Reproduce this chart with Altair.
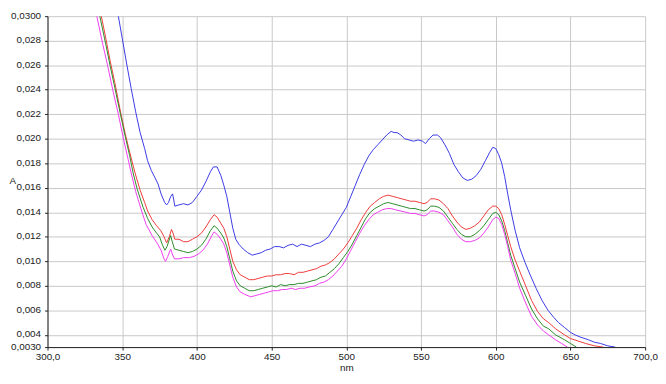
import altair as alt
import pandas as pd

# ---- data (nm, absorbance) ----
blue_nm = [340, 344, 347.4, 350, 353, 356, 359, 362, 365, 367, 369.5, 372, 374, 376, 378.4, 379.7, 381, 382.5, 383.7, 384.5, 385.2,
           388, 391, 394, 397, 400, 403, 406, 409, 411, 413.5, 416, 418, 420, 422, 424, 426, 428, 431, 434, 437, 440, 443, 446,
           449, 452, 455, 458, 461, 464, 467, 470, 473, 476, 479, 482, 485, 488, 491, 494, 497, 500, 503, 506, 509, 512, 515,
           518, 521, 524, 527, 530, 532, 534, 536.5, 539, 542, 545, 548, 551, 553, 555.5, 558, 561, 563, 566, 569, 572, 575,
           578, 581, 584, 587, 590, 593, 596, 598, 600, 602, 604, 606, 608, 610, 613, 616, 619.6, 623, 627, 631, 635, 639,
           642, 646, 650, 653, 657, 662, 666, 670, 675, 680]
blue_a = [0.0350, 0.0322, 0.0300, 0.0282, 0.0261, 0.0241, 0.0222, 0.0205, 0.0192, 0.0182, 0.0174, 0.0168, 0.0163, 0.0155, 0.0148,
          0.0146, 0.0148, 0.0153, 0.0155, 0.0150, 0.0145, 0.0146, 0.0147, 0.0146, 0.0148, 0.0153, 0.0158, 0.0165, 0.0173, 0.0177,
          0.0177, 0.0170, 0.0162, 0.0153, 0.0140, 0.0127, 0.0118, 0.0114, 0.0110, 0.0107, 0.0105, 0.0106, 0.0107, 0.0109, 0.0110,
          0.0112, 0.0112, 0.0111, 0.0113, 0.0114, 0.0112, 0.0114, 0.0113, 0.0112, 0.0114, 0.0115, 0.0117, 0.0120, 0.0126, 0.0132,
          0.0138, 0.0144, 0.0153, 0.0162, 0.0171, 0.0179, 0.0186, 0.0191, 0.0195, 0.0199, 0.0203, 0.0206, 0.0205, 0.0205, 0.0203,
          0.0200, 0.0199, 0.0198, 0.0199, 0.0198, 0.0196, 0.0200, 0.0203, 0.0203, 0.0201, 0.0195, 0.0188, 0.0179, 0.0173, 0.0168,
          0.0166, 0.0167, 0.0170, 0.0175, 0.0182, 0.0189, 0.0193, 0.0192, 0.0187, 0.0180, 0.0169, 0.0155, 0.0142, 0.0125, 0.0111,
          0.0099, 0.0089, 0.0078, 0.0068, 0.0060, 0.0054, 0.0050, 0.0046, 0.0042, 0.0040, 0.0038, 0.0036, 0.0034, 0.0033, 0.0031,
          0.0030]

red_nm = [330, 333, 336, 339, 342, 345, 349, 352, 355, 358.6, 362, 365, 367, 370, 373, 375.8, 378, 379.7, 381.5, 383, 384, 385.2,
          388, 391, 394, 397, 400, 403, 406, 409, 411.5, 413.5, 416, 418, 420, 422, 424, 426.5, 429, 432, 435, 438, 441, 444,
          447, 450, 453, 456, 459, 462, 465, 468, 471, 474, 477, 480, 483, 486, 489, 492, 495, 498, 501, 504, 507, 510, 513,
          516, 519, 522, 525, 528, 531, 534, 537, 540, 543, 546, 549, 552, 554, 556.5, 559, 562, 565, 568, 571, 574, 577, 580,
          583, 586, 589, 592, 595, 598, 600, 602, 604, 606, 608, 610, 613, 616, 620, 624, 628, 632, 635.4, 640, 646, 650, 655,
          660, 666, 672]
red_a = [0.0336, 0.0318, 0.0300, 0.0282, 0.0263, 0.0246, 0.0221, 0.0204, 0.0189, 0.0172, 0.0158, 0.0148, 0.0141, 0.0134, 0.0129,
         0.0125, 0.0120, 0.0115, 0.0120, 0.0126, 0.0123, 0.0118, 0.0118, 0.0116, 0.0116, 0.0118, 0.0120, 0.0123, 0.0128, 0.0134,
         0.0138, 0.0136, 0.0131, 0.0127, 0.0120, 0.0110, 0.0100, 0.0093, 0.0089, 0.0087, 0.0085, 0.0085, 0.0086, 0.0087, 0.0088,
         0.0088, 0.0089, 0.0089, 0.0090, 0.0090, 0.0089, 0.0091, 0.0091, 0.0092, 0.0093, 0.0094, 0.0096, 0.0097, 0.0099, 0.0102,
         0.0106, 0.0110, 0.0115, 0.0121, 0.0127, 0.0134, 0.0140, 0.0145, 0.0148, 0.0151, 0.0153, 0.0154, 0.0153, 0.0152, 0.0151,
         0.0150, 0.0149, 0.0149, 0.0148, 0.0147, 0.0148, 0.0151, 0.0151, 0.0150, 0.0147, 0.0143, 0.0137, 0.0132, 0.0128, 0.0126,
         0.0127, 0.0129, 0.0132, 0.0137, 0.0142, 0.0145, 0.0145, 0.0143, 0.0138, 0.0130, 0.0121, 0.0112, 0.0101, 0.0092, 0.0080,
         0.0068, 0.0059, 0.0053, 0.0050, 0.0045, 0.0040, 0.0037, 0.0035, 0.0033, 0.0031, 0.0030]

green_nm = [330, 335, 339, 342, 345, 348.8, 352, 355, 357.3, 360, 364, 367, 370, 373, 375, 377, 378.6, 380, 382.4, 383.5, 385,
            388, 391, 394, 397, 400, 403, 406, 409, 411.5, 413.5, 416, 418, 420, 422, 424, 426.5, 429, 432, 435, 438, 441, 444,
            447, 450, 453, 456, 459, 462, 465, 468, 471, 474, 477, 480, 483, 486, 489, 492, 495, 498, 501, 504, 507, 510, 513,
            516, 519, 522, 525, 528, 531, 534, 537, 540, 543, 546, 549, 552, 554, 556.5, 559, 562, 565, 568, 571, 574, 577, 580,
            583, 586, 589, 592, 595, 598, 600, 602, 604, 606, 608, 610, 613, 616, 620, 624, 628, 632, 635.4, 640, 646, 650, 654]
green_a = [0.0334, 0.0300, 0.0277, 0.0259, 0.0242, 0.0220, 0.0202, 0.0186, 0.0172, 0.0159, 0.0144, 0.0135, 0.0128, 0.0123, 0.0120,
           0.0113, 0.0109, 0.0112, 0.0121, 0.0116, 0.0110, 0.0109, 0.0108, 0.0107, 0.0108, 0.0110, 0.0113, 0.0118, 0.0125, 0.0129,
           0.0127, 0.0123, 0.0119, 0.0112, 0.0102, 0.0092, 0.0084, 0.0080, 0.0078, 0.0076, 0.0076, 0.0077, 0.0078, 0.0079, 0.0080,
           0.0079, 0.0081, 0.0080, 0.0081, 0.0081, 0.0082, 0.0082, 0.0083, 0.0084, 0.0085, 0.0087, 0.0088, 0.0091, 0.0094, 0.0098,
           0.0103, 0.0108, 0.0114, 0.0121, 0.0128, 0.0135, 0.0140, 0.0143, 0.0145, 0.0147, 0.0148, 0.0147, 0.0146, 0.0145, 0.0144,
           0.0143, 0.0143, 0.0142, 0.0141, 0.0142, 0.0145, 0.0145, 0.0144, 0.0141, 0.0136, 0.0131, 0.0126, 0.0122, 0.0120, 0.0120,
           0.0122, 0.0125, 0.0129, 0.0134, 0.0139, 0.0140, 0.0138, 0.0133, 0.0125, 0.0115, 0.0105, 0.0094, 0.0083, 0.0072, 0.0061,
           0.0053, 0.0047, 0.0045, 0.0040, 0.0036, 0.0033, 0.0030]

magenta_nm = [330, 333, 337, 340, 344, 347.4, 351, 354, 356, 359, 363, 366, 370, 373.8, 376, 378, 379, 380.5, 382.4, 383.5, 385,
              388, 391, 395, 398, 401, 404, 407, 410, 411.5, 413.5, 416, 418, 420, 422, 424, 426.5, 429, 432, 436, 439, 442,
              445, 448, 451, 454, 457, 460, 463, 466, 469, 472, 475, 479, 482, 485, 488, 491, 494, 497, 500, 503, 506, 509, 512,
              515, 518, 521, 524, 527, 530, 533, 536.5, 540, 543, 546, 549, 552, 554, 556.5, 559, 562, 565, 568, 571, 574, 577,
              580, 583, 586, 589, 592, 595, 598, 600, 602, 604, 606, 608, 610, 613, 616, 620, 624, 628, 632, 635.4, 640, 644, 648]
magenta_a = [0.0320, 0.0300, 0.0277, 0.0261, 0.0238, 0.0220, 0.0199, 0.0183, 0.0172, 0.0157, 0.0141, 0.0130, 0.0121, 0.0114,
             0.0109, 0.0102, 0.0100, 0.0104, 0.0110, 0.0106, 0.0102, 0.0102, 0.0103, 0.0103, 0.0104, 0.0106, 0.0109, 0.0114,
             0.0121, 0.0124, 0.0122, 0.0118, 0.0114, 0.0107, 0.0097, 0.0087, 0.0079, 0.0075, 0.0073, 0.0071, 0.0072, 0.0073,
             0.0074, 0.0075, 0.0076, 0.0076, 0.0077, 0.0077, 0.0078, 0.0077, 0.0078, 0.0078, 0.0079, 0.0080, 0.0082, 0.0083,
             0.0085, 0.0088, 0.0092, 0.0096, 0.0102, 0.0109, 0.0116, 0.0123, 0.0129, 0.0134, 0.0138, 0.0140, 0.0142, 0.0143,
             0.0143, 0.0142, 0.0141, 0.0140, 0.0139, 0.0139, 0.0138, 0.0137, 0.0138, 0.0141, 0.0141, 0.0140, 0.0138, 0.0133,
             0.0128, 0.0122, 0.0118, 0.0116, 0.0116, 0.0117, 0.0119, 0.0123, 0.0128, 0.0134, 0.0136, 0.0135, 0.0130, 0.0122,
             0.0112, 0.0101, 0.0090, 0.0078, 0.0066, 0.0055, 0.0048, 0.0043, 0.0040, 0.0036, 0.0033, 0.0030]

series_names = ["blue", "red", "green", "magenta"]
series_colors = ["#3a3ae6", "#f03a3a", "#2a8a2a", "#f03cf0"]

x_ticks = [300, 350, 400, 450, 500, 550, 600, 650, 700]
y_ticks = [0.003, 0.004, 0.006, 0.008, 0.010, 0.012, 0.014, 0.016, 0.018, 0.020,
           0.022, 0.024, 0.026, 0.028, 0.030]

frames = []
for name, xs, ys in [("blue", blue_nm, blue_a), ("red", red_nm, red_a),
                     ("green", green_nm, green_a), ("magenta", magenta_nm, magenta_a)]:
    frames.append(pd.DataFrame({"nm": xs, "A": ys, "s": name}))
df = pd.concat(frames, ignore_index=True)

FONT = "Liberation Sans"

x_label_expr = "(datum.value == 300 || datum.value == 700) ? replace(format(datum.value, '.1f'), '.', ',') : format(datum.value, 'd')"
y_label_expr = "(abs(datum.value - 0.003) < 1e-9 || abs(datum.value - 0.03) < 1e-9) ? replace(format(datum.value, '.4f'), '.', ',') : replace(format(datum.value, '.3f'), '.', ',')"

chart = alt.Chart(df).mark_line(strokeWidth=1, clip=True).encode(
    x=alt.X("nm:Q",
            scale=alt.Scale(domain=[300, 700], nice=False, zero=False),
            axis=alt.Axis(values=x_ticks, labelExpr=x_label_expr, title="nm",
                          grid=True, gridColor="#c8c8c8", gridWidth=1,
                          domainColor="#222", tickColor="#222", tickSize=3,
                          labelFont=FONT, labelFontSize=10, labelColor="#222", labelPadding=2,
                          labelFlush=False,
                          titleFont=FONT, titleFontSize=10, titleFontWeight="normal",
                          titleColor="#222", titlePadding=1)),
    y=alt.Y("A:Q",
            scale=alt.Scale(domain=[0.003, 0.030], nice=False, zero=False),
            axis=alt.Axis(values=y_ticks, labelExpr=y_label_expr, title="A",
                          grid=True, gridColor="#c8c8c8", gridWidth=1,
                          domainColor="#222", tickColor="#222", tickSize=3,
                          labelFont=FONT, labelFontSize=10, labelColor="#222", labelPadding=4,
                          labelOffset=-1,
                          titleFont=FONT, titleFontSize=10, titleFontWeight="normal",
                          titleColor="#222", titleAngle=0, titleAlign="left",
                          titleBaseline="middle", titleX=-39, titleY=166)),
    color=alt.Color("s:N", scale=alt.Scale(domain=series_names, range=series_colors), legend=None),
    order=alt.Order("nm:Q"),
).properties(
    width=605, height=335,
    autosize=alt.AutoSizeParams(type="none"),
    padding={"left": 40, "top": 6, "right": 13, "bottom": 27},
    background="white",
).configure_view(strokeWidth=0)

chart.save("out.html", embed_options={"renderer": "svg", "actions": False})
